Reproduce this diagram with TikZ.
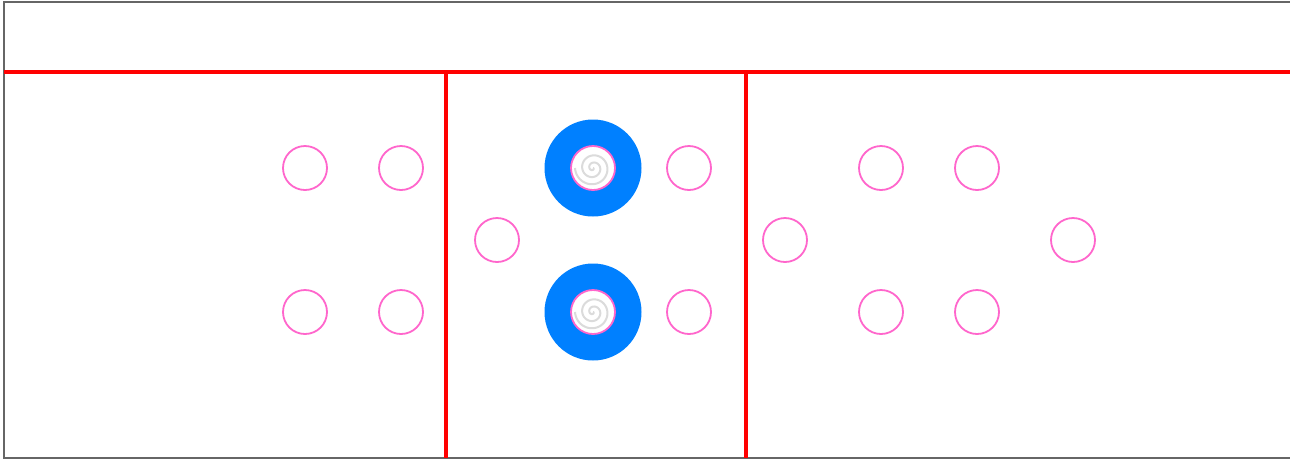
\documentclass[tikz,border=0pt]{standalone}
\begin{document}
\begin{tikzpicture}[x=1pt,y=-1pt,
  frame/.style={draw=black!60,line width=1.3pt},
  wall/.style={draw=red,line width=4pt},
  seat/.style={circle,draw=pinkc,line width=1.8pt,minimum size=44pt,inner sep=0pt},
  hub/.style={circle,fill=bluec,minimum size=97pt,inner sep=0pt},
  core/.style={circle,draw=pinkc,fill=white,line width=1.8pt,minimum size=44pt,inner sep=0pt},
  spiral/.style={draw=black!14,line width=2pt}]
\definecolor{pinkc}{HTML}{FF66CC}
\definecolor{bluec}{HTML}{0080FF}
\useasboundingbox (0,0) rectangle (1290,467);
\fill[white] (0,0) rectangle (1290,467);
% frame
\coordinate (f1) at (1290,2);
\coordinate (f2) at (4,2);
\coordinate (f3) at (4,458);
\coordinate (f4) at (1290,458);
\draw[frame] (f1) -- (f2) -- (f3) -- (f4);
% walls
\coordinate (h1) at (4,72);
\coordinate (h2) at (1290,72);
\coordinate (v1t) at (446,72);
\coordinate (v1b) at (446,458);
\coordinate (v2t) at (746,72);
\coordinate (v2b) at (746,458);
\draw[wall] (h1) -- (h2);
\draw[wall] (v1t) -- (v1b);
\draw[wall] (v2t) -- (v2b);
% hubs
\node[hub] (hubA) at (593,168) {};
\node[hub] (hubB) at (593,312) {};
\node[core] (coreA) at (593,168) {};
\node[core] (coreB) at (593,312) {};
\draw[spiral,shift={(coreA.center)}] plot[domain=0:900,samples=150,smooth] ({\x}:{\x/50});
\draw[spiral,shift={(coreB.center)}] plot[domain=0:900,samples=150,smooth] ({\x}:{\x/50});
% seats
\node[seat] (s1) at (305,168) {};
\node[seat] (s2) at (401,168) {};
\node[seat] (s3) at (689,168) {};
\node[seat] (s4) at (881,168) {};
\node[seat] (s5) at (977,168) {};
\node[seat] (s6) at (497,240) {};
\node[seat] (s7) at (785,240) {};
\node[seat] (s8) at (1073,240) {};
\node[seat] (s9) at (305,312) {};
\node[seat] (s10) at (401,312) {};
\node[seat] (s11) at (689,312) {};
\node[seat] (s12) at (881,312) {};
\node[seat] (s13) at (977,312) {};
\end{tikzpicture}
\end{document}
